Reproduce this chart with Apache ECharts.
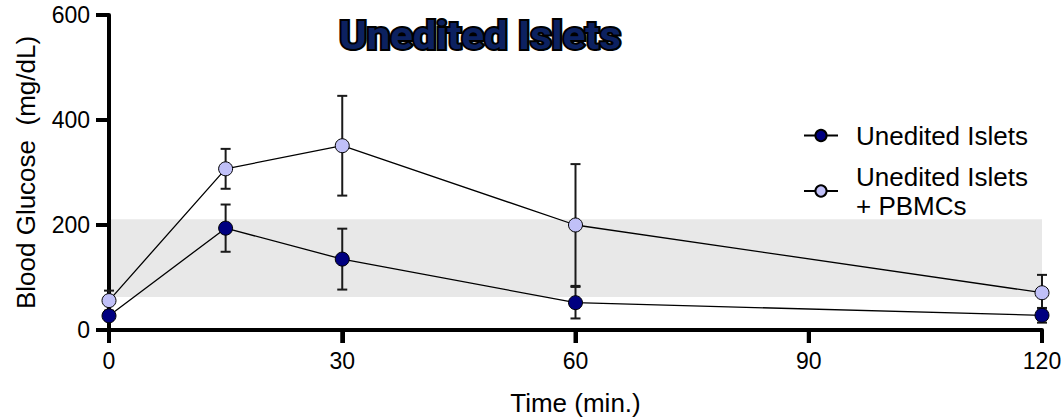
<!DOCTYPE html>
<html>
<head>
<meta charset="utf-8">
<script src="https://cdn.jsdelivr.net/npm/echarts@6/dist/echarts.min.js"></script>
<style>
  html, body { margin: 0; padding: 0; background: #ffffff; }
  #chart { width: 1063px; height: 419px; }
</style>
</head>
<body>
<div id="chart"></div>
<script>
// Sampling times (minutes)
const times = [0, 15, 30, 60, 120];

// Unedited Islets: mean blood glucose and error (mg/dL)
const isletsMean = [27, 194, 135, 52, 28];
const isletsErr = [8, 45, 58, 30, 14];

// Unedited Islets + PBMCs: mean blood glucose and error (mg/dL)
const pbmcMean = [56, 307, 351, 200, 71];
const pbmcErr = [19, 38, 95, 116, 34];

// Normoglycemic reference band (mg/dL)
const bandRange = [63, 211];

// Axis ranges and tick values
const xTicks = { min: 0, max: 120, interval: 30 };
const yTicks = { min: 0, max: 600, interval: 200 };
const xTickValues = [0, 30, 60, 90, 120];
const yTickValues = [0, 200, 400, 600];

const seriesNames = ['Unedited Islets', 'Unedited Islets\n+ PBMCs'];
const font = 'Liberation Sans';
const TICK_LEN = 13;
const AXIS_W = 4;

function pairs(xs, ys) { return xs.map((x, i) => [x, ys[i]]); }
function errRows(xs, ys, es) { return xs.map((x, i) => [x, ys[i], es[i]]); }

// Vertical error bar with end caps
function errorBarItem(params, api) {
  const x = api.value(0), m = api.value(1), e = api.value(2);
  const top = api.coord([x, m + e]);
  const bot = api.coord([x, m - e]);
  const half = 5;
  const style = { stroke: '#1a1a1a', lineWidth: 2 };
  return {
    type: 'group',
    children: [
      { type: 'line', shape: { x1: top[0], y1: top[1], x2: bot[0], y2: bot[1] }, style },
      { type: 'line', shape: { x1: top[0] - half, y1: top[1], x2: top[0] + half, y2: top[1] }, style },
      { type: 'line', shape: { x1: bot[0] - half, y1: bot[1], x2: bot[0] + half, y2: bot[1] }, style }
    ]
  };
}

function makeAxis(extra) {
  return Object.assign({
    type: 'value',
    z: 1,
    axisLine: { show: true, lineStyle: { color: '#000', width: AXIS_W } },
    axisTick: { show: true, length: TICK_LEN, lineStyle: { color: '#000', width: AXIS_W } },
    axisLabel: { show: true, color: '#000', fontFamily: font, fontSize: 23, margin: 19 },
    splitLine: { show: false },
    nameLocation: 'middle',
    nameTextStyle: { color: '#000', fontFamily: font, fontSize: 26 }
  }, extra);
}

const chart = echarts.init(document.getElementById('chart'), null, { renderer: 'svg' });

chart.setOption({
  animation: false,
  backgroundColor: '#ffffff',
  grid: { left: 109, right: 21, top: 15, bottom: 89, outerBoundsMode: 'none' },
  xAxis: makeAxis({
    min: xTicks.min, max: xTicks.max, interval: xTicks.interval,
    name: 'Time (min.)',
    nameGap: 60
  }),
  yAxis: makeAxis({
    min: yTicks.min, max: yTicks.max, interval: yTicks.interval,
    name: 'Blood Glucose  (mg/dL)',
    nameGap: 70
  }),
  legend: {
    orient: 'vertical',
    left: 798,
    top: 116,
    itemWidth: 34,
    itemHeight: 14,
    itemGap: 12,
    data: seriesNames,
    textStyle: { color: '#000', fontFamily: font, fontSize: 26, lineHeight: 29, padding: [0, 0, 0, 13] }
  },
  graphic: [{
    type: 'text',
    x: 480,
    y: 36,
    scaleX: 1.1,
    z: 10,
    style: {
      text: 'Unedited Islets',
      font: 'bold 38px Roboto',
      fill: '#0c2160',
      textAlign: 'center',
      textVerticalAlign: 'middle'
    }
  }],
  series: [
    {
      name: 'band',
      type: 'line',
      data: [],
      silent: true,
      markArea: {
        silent: true,
        itemStyle: { color: '#e8e8e8' },
        data: [[{ xAxis: xTicks.min, yAxis: bandRange[0] }, { xAxis: xTicks.max, yAxis: bandRange[1] }]]
      },
      z: 0
    },
    {
      type: 'custom',
      name: 'pbmcErr',
      renderItem: errorBarItem,
      data: errRows(times, pbmcMean, pbmcErr),
      encode: { x: 0, y: 1 },
      silent: true,
      z: 2
    },
    {
      type: 'custom',
      name: 'isletsErr',
      renderItem: errorBarItem,
      data: errRows(times, isletsMean, isletsErr),
      encode: { x: 0, y: 1 },
      silent: true,
      z: 2
    },
    {
      name: seriesNames[1],
      type: 'line',
      data: pairs(times, pbmcMean),
      symbol: 'circle',
      symbolSize: 14,
      lineStyle: { color: '#000', width: 1.3 },
      itemStyle: { color: '#c0c0f8', borderColor: '#000', borderWidth: 1 },
      z: 3
    },
    {
      name: seriesNames[0],
      type: 'line',
      data: pairs(times, isletsMean),
      symbol: 'circle',
      symbolSize: 14,
      lineStyle: { color: '#000', width: 1.3 },
      itemStyle: { color: '#000080', borderColor: '#000', borderWidth: 1 },
      z: 4
    }
  ]
});

// Heavy outside tick marks drawn on top, placed through the axis scales
const tickGraphics = [];
xTickValues.forEach(v => {
  const p = chart.convertToPixel({ gridIndex: 0 }, [v, yTicks.min]);
  tickGraphics.push({ type: 'line', z: 50, silent: true,
    shape: { x1: p[0], y1: p[1], x2: p[0], y2: p[1] + TICK_LEN },
    style: { stroke: '#000', lineWidth: AXIS_W } });
});
yTickValues.forEach(v => {
  const p = chart.convertToPixel({ gridIndex: 0 }, [xTicks.min, v]);
  tickGraphics.push({ type: 'line', z: 50, silent: true,
    shape: { x1: p[0] - TICK_LEN, y1: p[1], x2: p[0], y2: p[1] },
    style: { stroke: '#000', lineWidth: AXIS_W } });
});
const o = chart.convertToPixel({ gridIndex: 0 }, [xTicks.min, yTicks.min]);
const xe = chart.convertToPixel({ gridIndex: 0 }, [xTicks.max, yTicks.min]);
const ye = chart.convertToPixel({ gridIndex: 0 }, [xTicks.min, yTicks.max]);
tickGraphics.push({ type: 'line', z: 1, silent: true,
  shape: { x1: o[0], y1: o[1], x2: xe[0], y2: xe[1] }, style: { stroke: '#000', lineWidth: AXIS_W } });
tickGraphics.push({ type: 'line', z: 1, silent: true,
  shape: { x1: o[0], y1: o[1], x2: ye[0], y2: ye[1] }, style: { stroke: '#000', lineWidth: AXIS_W } });
chart.setOption({ graphic: tickGraphics });
</script>
</body>
</html>
